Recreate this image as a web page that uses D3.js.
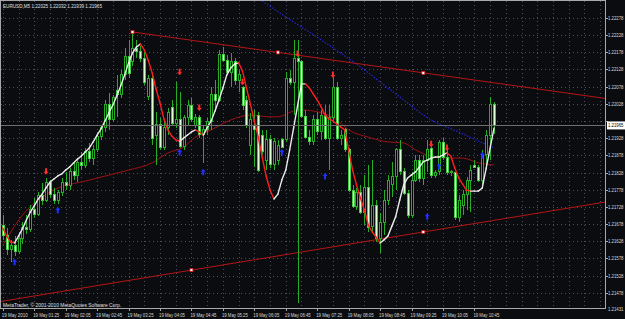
<!DOCTYPE html>
<html lang="en">
<head>
<meta charset="UTF-8">
<title>EURUSD,M5</title>
<script src="https://cdn.jsdelivr.net/npm/d3@7"></script>
<style>
    body { margin: 0; background: #000; }
    text { font-family: "Liberation Sans", Arial, sans-serif; }
</style>
</head>
<body>
<svg id="chart" width="625" height="319"></svg>
<script>
var opens = [1.21675,1.21646,1.21603,1.21617,1.21597,1.21637,1.21667,1.21661,1.21719,1.21707,
1.21760,1.21748,1.21800,1.21763,1.21748,1.21771,1.21800,1.21789,1.21830,1.21818,
1.21856,1.21847,1.21888,1.21870,1.21894,1.21934,1.21958,1.22027,1.21981,1.22068,
1.22054,1.22112,1.22167,1.22150,1.22190,1.22179,1.22161,1.22048,1.22103,1.21937,
1.21969,1.21902,1.21958,1.22016,1.21972,1.21981,1.21905,1.21987,1.22024,1.21966,
1.21987,1.21940,1.21952,1.21975,1.22054,1.22039,1.22170,1.22155,1.22118,1.22150,
1.22097,1.22074,1.22039,1.21908,1.21966,1.21995,1.21937,1.21864,1.21923,1.21850,
1.21864,1.21923,1.21923,1.22103,1.22089,1.22161,1.22150,1.21990,1.21931,1.21917,
1.21981,1.21946,1.21995,1.21928,1.21987,1.22074,1.21928,1.21952,1.21894,1.21777,
1.21728,1.21771,1.21713,1.21783,1.21672,1.21733,1.21637,1.21684,1.21748,1.21792,
1.21815,1.21894,1.21830,1.21768,1.21704,1.21806,1.21864,1.21812,1.21864,1.21899,
1.21818,1.21830,1.21914,1.21873,1.21827,1.21827,1.21696,1.21733,1.21763,1.21806,
1.21847,1.21844,1.21806,1.21879,1.21937,1.22025];
var highs = [1.21704,1.21667,1.21632,1.21643,1.21655,1.21684,1.21704,1.21733,1.21754,1.21771,
1.21797,1.21812,1.21806,1.21783,1.21777,1.21812,1.21830,1.21841,1.21859,1.21870,
1.21888,1.21899,1.21914,1.21908,1.21946,1.21966,1.22039,1.22059,1.22054,1.22112,
1.22126,1.22190,1.22214,1.22237,1.22214,1.22196,1.22179,1.22112,1.22115,1.22004,
1.21987,1.21981,1.22016,1.22039,1.22091,1.22062,1.21995,1.22039,1.22045,1.21999,
1.21995,1.21966,1.21987,1.22077,1.22097,1.22185,1.22193,1.22170,1.22176,1.22161,
1.22126,1.22080,1.22051,1.22002,1.22010,1.22004,1.21952,1.21952,1.21937,1.21928,
1.21923,1.21928,1.22120,1.22126,1.22214,1.22214,1.22155,1.22010,1.21952,1.21995,
1.22004,1.22010,1.22024,1.22024,1.22106,1.22091,1.21952,1.21958,1.21899,1.21792,
1.21783,1.21792,1.21821,1.21850,1.21864,1.21748,1.21710,1.21777,1.21821,1.21859,
1.21899,1.21923,1.21841,1.21777,1.21830,1.21879,1.21879,1.21879,1.21923,1.21905,
1.21835,1.21923,1.21928,1.21894,1.21835,1.21830,1.21763,1.21777,1.21815,1.21850,
1.21864,1.21850,1.21894,1.21952,1.22048,1.22032];
var lows = [1.21632,1.21588,1.21568,1.21585,1.21591,1.21620,1.21649,1.21655,1.21696,1.21701,
1.21733,1.21742,1.21754,1.21736,1.21736,1.21760,1.21777,1.21777,1.21806,1.21800,
1.21835,1.21841,1.21859,1.21850,1.21888,1.21923,1.21946,1.21952,1.21975,1.21990,
1.22045,1.22097,1.22103,1.22138,1.22161,1.22150,1.22083,1.22039,1.21908,1.21850,
1.21894,1.21894,1.21937,1.21966,1.21958,1.21899,1.21894,1.21966,1.21975,1.21958,
1.21928,1.21856,1.21937,1.21952,1.22010,1.22033,1.22150,1.22112,1.22077,1.22083,
1.22062,1.22010,1.21958,1.21879,1.21844,1.21830,1.21879,1.21835,1.21841,1.21835,
1.21850,1.21902,1.21917,1.22083,1.21995,1.21448,1.21987,1.21928,1.21908,1.21908,
1.21937,1.21923,1.21923,1.21835,1.21972,1.21923,1.21908,1.21888,1.21771,1.21725,
1.21719,1.21707,1.21675,1.21655,1.21655,1.21626,1.21594,1.21646,1.21733,1.21757,
1.21777,1.21821,1.21763,1.21696,1.21696,1.21800,1.21800,1.21792,1.21830,1.21812,
1.21812,1.21821,1.21864,1.21821,1.21818,1.21690,1.21684,1.21704,1.21719,1.21713,
1.21841,1.21800,1.21792,1.21835,1.21864,1.21939];
var closes = [1.21646,1.21603,1.21617,1.21597,1.21637,1.21667,1.21661,1.21719,1.21707,1.21760,
1.21748,1.21800,1.21763,1.21748,1.21771,1.21800,1.21789,1.21830,1.21818,1.21856,
1.21847,1.21888,1.21870,1.21894,1.21934,1.21958,1.22027,1.21981,1.22045,1.22054,
1.22112,1.22167,1.22115,1.22190,1.22179,1.22161,1.22091,1.22103,1.21928,1.21969,
1.21902,1.21958,1.22004,1.21972,1.21981,1.21905,1.21987,1.22024,1.21981,1.21987,
1.21940,1.21952,1.21975,1.22054,1.22039,1.22170,1.22155,1.22118,1.22150,1.22097,
1.22112,1.22024,1.21966,1.21981,1.21952,1.21835,1.21888,1.21923,1.21850,1.21917,
1.21908,1.21902,1.22103,1.22089,1.22161,1.22150,1.21990,1.21931,1.21917,1.21981,
1.21946,1.21995,1.21928,1.21987,1.22074,1.21928,1.21937,1.21894,1.21777,1.21728,
1.21771,1.21713,1.21783,1.21667,1.21733,1.21637,1.21684,1.21748,1.21806,1.21815,
1.21894,1.21830,1.21768,1.21704,1.21806,1.21864,1.21812,1.21864,1.21894,1.21818,
1.21827,1.21914,1.21873,1.21827,1.21830,1.21696,1.21748,1.21763,1.21806,1.21835,
1.21844,1.21806,1.21879,1.21937,1.22027,1.21965];

// fast smoothed average (white rising / red falling), one value per bar
var fastMA = [1.21667,1.21643,1.21626,1.21623,1.21643,1.21664,1.21690,1.21713,1.21731,1.21751,
1.21765,1.21783,1.21800,1.21809,1.21818,1.21824,1.21835,1.21844,1.21856,1.21867,
1.21876,1.21888,1.21899,1.21917,1.21937,1.21955,1.21978,1.22002,1.22024,1.22051,
1.22080,1.22112,1.22147,1.22176,1.22193,1.22202,1.22185,1.22155,1.22118,1.22071,
1.22030,1.21984,1.21952,1.21934,1.21923,1.21919,1.21928,1.21937,1.21946,1.21952,
1.21946,1.21937,1.21958,1.21978,1.22007,1.22039,1.22074,1.22112,1.22132,1.22144,
1.22147,1.22123,1.22074,1.22027,1.21978,1.21931,1.21873,1.21818,1.21777,1.21751,
1.21765,1.21806,1.21835,1.21894,1.21958,1.22022,1.22086,1.22086,1.22074,1.22056,
1.22039,1.22019,1.21995,1.21984,1.21978,1.21969,1.21960,1.21952,1.21894,1.21835,
1.21792,1.21754,1.21719,1.21675,1.21655,1.21640,1.21623,1.21632,1.21643,1.21672,
1.21701,1.21748,1.21792,1.21812,1.21821,1.21830,1.21844,1.21859,1.21864,1.21870,
1.21873,1.21873,1.21879,1.21885,1.21876,1.21841,1.21812,1.21794,1.21777,1.21774,
1.21774,1.21774,1.21783,1.21841,1.21899,1.21958];

// slow average (dark red), read at a few bars
var slowBars = [0,5,12,22,32,38,42,46,49,53,58,63,68,70,74,76,81,85,88,93,98,102,105,110,114,117,121,125];
var slowMA = [1.21617,1.21704,1.21771,1.21806,1.21835,1.21856,1.21885,1.21902,1.21931,1.21952,1.21981,1.21995,1.21990,1.21990,
1.22007,1.22010,1.22002,1.21981,1.21952,1.21931,1.21917,1.21914,1.21894,1.21873,1.21870,1.21870,1.21856,1.21850];

// blue dotted line
var blueBars = [66,72,81,91,101,109,116,125];
var blueMA = [1.22327,1.22281,1.22214,1.22135,1.22048,1.21981,1.21946,1.21899];

// trend lines: two anchor bars and prices each
var upperLine = {bars: [33, 107], prices: [1.22237, 1.22118], marks: [33, 70, 107]};
var lowerLine = {bars: [48, 107], prices: [1.21544, 1.21655], marks: [48, 107]};

// signal arrows
var sellBars = [11, 45, 50, 61, 75, 84, 109, 113];
var sellPrices = [1.21830, 1.22120, 1.22016, 1.22091, 1.22173, 1.22112, 1.21910, 1.21899];
var buyBars = [3, 14, 45, 51, 71, 82, 108, 111, 122];
var buyPrices = [1.21568, 1.21719, 1.21888, 1.21830, 1.21888, 1.21818, 1.21701, 1.21847, 1.21879];

var priceTicks = [1.22278,1.22228,1.22178,1.22128,1.22078,1.22028,1.21978,1.21928,1.21878,
    1.21828,1.21778,1.21728,1.21678,1.21628,1.21578,1.21528,1.21478];
var bottomPrice = 1.21431;
var timeBars = [0,8,16,24,32,40,48,56,64,72,80,88,96,104,112,120];
var timeLabels = ["19 May 2010","19 May 01:25","19 May 02:05","19 May 02:45","19 May 03:25","19 May 04:05",
    "19 May 04:45","19 May 05:25","19 May 06:05","19 May 06:45","19 May 07:25","19 May 08:05",
    "19 May 08:45","19 May 09:25","19 May 10:05","19 May 10:45"];

var W = 625, H = 319;
var plot = {left: 1, top: 1, right: 606, bottom: 309};

var svg = d3.select("#chart");

var x = d3.scaleLinear().domain([0, 152]).range([2.8, 2.8 + 152 * 3.93]);
var y = d3.scaleLinear().domain([1.21478, 1.22278]).range([292.8, 17.87]);

svg.append("rect").attr("width", W).attr("height", H).attr("fill", "#0b0c10");

svg.append("defs").append("clipPath").attr("id", "clip")
    .append("rect")
    .attr("x", plot.left).attr("y", plot.top)
    .attr("width", plot.right - plot.left).attr("height", plot.bottom - plot.top);

// grid
var grid = svg.append("g").attr("stroke", "#4a4e66").attr("stroke-dasharray", "1,3").attr("shape-rendering", "crispEdges");
grid.selectAll(".hg").data(priceTicks).enter().append("line")
    .attr("x1", plot.left).attr("x2", plot.right)
    .attr("y1", function (d) { return Math.round(y(d)) + 0.5; })
    .attr("y2", function (d) { return Math.round(y(d)) + 0.5; });
grid.selectAll(".vg").data(d3.range(0, 153, 4)).enter().append("line")
    .attr("y1", plot.top).attr("y2", plot.bottom)
    .attr("x1", function (d) { return Math.round(x(d)) + 0.5; })
    .attr("x2", function (d) { return Math.round(x(d)) + 0.5; });

var g = svg.append("g").attr("clip-path", "url(#clip)");

// slow average
g.append("path")
    .datum(slowBars.map(function (b, i) { return [b, slowMA[i]]; }))
    .attr("fill", "none").attr("stroke", "#9e1010").attr("stroke-width", 1)
    .attr("d", d3.line().curve(d3.curveMonotoneX)
        .x(function (d) { return x(d[0]); }).y(function (d) { return y(d[1]); }));

// blue dotted line
g.append("path")
    .datum(blueBars.map(function (b, i) { return [b, blueMA[i]]; }))
    .attr("fill", "none").attr("stroke", "#2424d8").attr("stroke-width", 1.2)
    .attr("stroke-dasharray", "1.5,1.5")
    .attr("d", d3.line().curve(d3.curveMonotoneX)
        .x(function (d) { return x(d[0]); }).y(function (d) { return y(d[1]); }));

// trend lines
function lineAt(line, b) {
    var t = (b - line.bars[0]) / (line.bars[1] - line.bars[0]);
    return line.prices[0] + t * (line.prices[1] - line.prices[0]);
}
[[upperLine, upperLine.bars[0]], [lowerLine, -2]].forEach(function (p) {
    var line = p[0];
    g.append("line")
        .attr("x1", x(p[1])).attr("y1", y(lineAt(line, p[1])))
        .attr("x2", x(155)).attr("y2", y(lineAt(line, 155)))
        .attr("stroke", "#b81414").attr("stroke-width", 1);
});

// candles
var n = closes.length;
var bars = g.append("g").attr("shape-rendering", "crispEdges");
bars.selectAll(".wick").data(d3.range(n)).enter().append("line")
    .attr("x1", function (i) { return Math.round(x(i)) + 0.5; })
    .attr("x2", function (i) { return Math.round(x(i)) + 0.5; })
    .attr("y1", function (i) { return y(highs[i]); })
    .attr("y2", function (i) { return y(lows[i]); })
    .attr("stroke", "#26ad26");
bars.selectAll(".body").data(d3.range(n)).enter().append("rect")
    .attr("x", function (i) { return Math.round(x(i)) - 0.5; })
    .attr("width", 2)
    .attr("y", function (i) { return Math.min(y(opens[i]), y(closes[i])); })
    .attr("height", function (i) { return Math.max(1, Math.abs(y(opens[i]) - y(closes[i]))); })
    .attr("fill", function (i) { return closes[i] >= opens[i] ? "#000" : "#dcffd2"; })
    .attr("stroke", function (i) { return closes[i] >= opens[i] ? "#26ad26" : "#44cc44"; });

// fast average, coloured by direction
var seg = d3.line().x(function (i) { return x(i); }).y(function (i) { return y(fastMA[i]); });
g.selectAll(".fast").data(d3.range(n - 1)).enter().append("path")
    .attr("d", function (i) { return seg([i, i + 1]); })
    .attr("fill", "none").attr("stroke-width", 1.4).attr("stroke-linecap", "round")
    .attr("stroke", function (i) { return fastMA[i + 1] >= fastMA[i] ? "#ececec" : "#ff1e1e"; });

// arrows
var downArrow = "M-1,-3.5L1,-3.5L1,0L2.5,0L0,3L-2.5,0L-1,0Z";
var upArrow = "M-1,3.5L1,3.5L1,0L2.5,0L0,-3L-2.5,0L-1,0Z";
g.selectAll(".sell").data(sellBars).enter().append("path")
    .attr("d", downArrow).attr("fill", "#ff2a2a")
    .attr("transform", function (b, i) { return "translate(" + x(b) + "," + y(sellPrices[i]) + ")"; });
g.selectAll(".buy").data(buyBars).enter().append("path")
    .attr("d", upArrow).attr("fill", "#2030ff")
    .attr("transform", function (b, i) { return "translate(" + x(b) + "," + y(buyPrices[i]) + ")"; });

// trend line anchor marks
[upperLine, lowerLine].forEach(function (line) {
    g.selectAll(null).data(line.marks).enter().append("rect")
        .attr("x", function (b) { return x(b) - 1.5; })
        .attr("y", function (b) { return y(lineAt(line, b)) - 1.5; })
        .attr("width", 3).attr("height", 3)
        .attr("fill", "#fff").attr("stroke", "#d01010").attr("stroke-width", 0.8);
});

// bid line
var last = closes[n - 1];
svg.append("line")
    .attr("x1", plot.left).attr("x2", plot.right)
    .attr("y1", Math.round(y(last)) + 0.5).attr("y2", Math.round(y(last)) + 0.5)
    .attr("stroke", "#6e6e6e").attr("shape-rendering", "crispEdges");

// frame
svg.append("rect")
    .attr("x", plot.left - 0.5).attr("y", plot.top - 0.5)
    .attr("width", plot.right - plot.left).attr("height", plot.bottom - plot.top)
    .attr("fill", "none").attr("stroke", "#a8a8a8").attr("shape-rendering", "crispEdges");

// price axis (the label under the bid box is hidden, as in the terminal)
var shownTicks = priceTicks.filter(function (d) { return Math.abs(y(d) - y(last)) > 7; });
var axisY = svg.append("g").attr("font-size", 4.6).attr("fill", "#d8d8d8");
axisY.selectAll("text").data(shownTicks.concat([bottomPrice])).enter().append("text")
    .attr("x", 608).attr("y", function (d) { return Math.min(y(d) + 2, 316); })
    .attr("textLength", 15.5).attr("lengthAdjust", "spacingAndGlyphs")
    .text(function (d) { return d.toFixed(5); });
axisY.selectAll("line").data(priceTicks).enter().append("line")
    .attr("x1", plot.right).attr("x2", plot.right + 2)
    .attr("y1", function (d) { return Math.round(y(d)) + 0.5; })
    .attr("y2", function (d) { return Math.round(y(d)) + 0.5; })
    .attr("stroke", "#a8a8a8");
svg.append("rect")
    .attr("x", 607).attr("y", y(last) - 4).attr("width", 18).attr("height", 8)
    .attr("fill", "#ffffff");
svg.append("text")
    .attr("x", 608).attr("y", y(last) + 2)
    .attr("font-size", 4.6).attr("fill", "#000")
    .attr("textLength", 15.5).attr("lengthAdjust", "spacingAndGlyphs")
    .text(last.toFixed(5));

// time axis
var axisX = svg.append("g").attr("font-size", 5.6).attr("fill", "#d8d8d8");
axisX.selectAll("text").data(timeBars).enter().append("text")
    .attr("x", function (b) { return x(b) - 1; })
    .attr("y", 317)
    .attr("textLength", 26).attr("lengthAdjust", "spacingAndGlyphs")
    .text(function (b, i) { return timeLabels[i]; });
axisX.selectAll("line").data(timeBars).enter().append("line")
    .attr("x1", function (b) { return Math.round(x(b)) + 0.5; })
    .attr("x2", function (b) { return Math.round(x(b)) + 0.5; })
    .attr("y1", plot.bottom).attr("y2", plot.bottom + 2)
    .attr("stroke", "#a8a8a8");

// captions
svg.append("text").attr("x", 3).attr("y", 8)
    .attr("font-size", 5.6).attr("fill", "#e0e0e0")
    .attr("textLength", 99).attr("lengthAdjust", "spacingAndGlyphs")
    .text("EURUSD,M5  1.22025 1.22032 1.21939 1.21965");
svg.append("text").attr("x", 3).attr("y", 307)
    .attr("font-size", 5.6).attr("fill", "#e0e0e0")
    .attr("textLength", 118).attr("lengthAdjust", "spacingAndGlyphs")
    .text("MetaTrader, \u00a9 2001-2010 MetaQuotes Software Corp.");
</script>
</body>
</html>
